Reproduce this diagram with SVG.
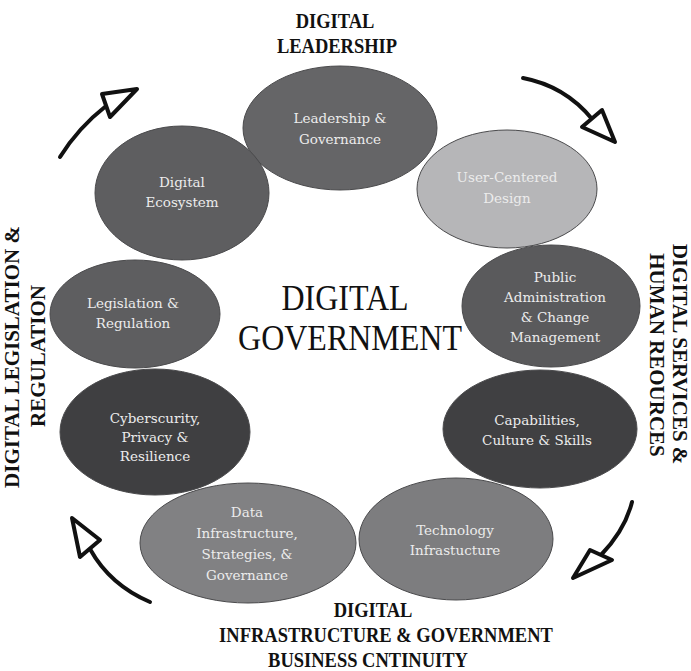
<svg xmlns="http://www.w3.org/2000/svg" width="691" height="671" viewBox="0 0 691 671">
  <style>
    .node ellipse { stroke: #4a4a4c; stroke-width: 1; }
    .node text { font-family: "DejaVu Serif", "Liberation Serif", serif; font-size: 13.5px; fill: #ececec; text-anchor: middle; }
    .title { font-family: "Liberation Serif", serif; font-size: 32px; fill: #111; text-anchor: middle; }
    .label { font-family: "Liberation Serif", serif; font-weight: bold; font-size: 18.5px; fill: #111; text-anchor: middle; }
    .vlabel { font-family: "Liberation Serif", serif; font-weight: bold; font-size: 21px; fill: #111; text-anchor: middle; }
    .arrow path { fill: none; stroke: #111; stroke-width: 4; stroke-linecap: round; stroke-linejoin: round; }
    .arrow polygon { fill: #fff; stroke: #111; stroke-width: 4; stroke-linejoin: round; }
  </style>
  <rect width="691" height="671" fill="#fff"/>

  <!-- ring of topic ellipses -->
  <g id="leadership-governance" class="node">
    <ellipse cx="340" cy="128" rx="97" ry="62" fill="#656567"/>
    <text x="340" y="123">Leadership &amp;</text>
    <text x="340" y="144">Governance</text>
  </g>
  <g id="user-centered-design" class="node">
    <ellipse cx="507" cy="189" rx="90" ry="59" fill="#b6b6b8"/>
    <text x="507" y="182">User-Centered</text>
    <text x="507" y="203">Design</text>
  </g>
  <g id="public-administration" class="node">
    <ellipse cx="551" cy="306" rx="89" ry="61" fill="#5a5a5c"/>
    <text x="555" y="282">Public</text>
    <text x="555" y="302">Administration</text>
    <text x="555" y="322">&amp; Change</text>
    <text x="555" y="342">Management</text>
  </g>
  <g id="capabilities-culture" class="node">
    <ellipse cx="540" cy="429" rx="97" ry="59" fill="#404042"/>
    <text x="537" y="425">Capabilities,</text>
    <text x="537" y="445">Culture &amp; Skills</text>
  </g>
  <g id="technology-infrastructure" class="node">
    <ellipse cx="456" cy="539" rx="97" ry="61" fill="#7d7d7f"/>
    <text x="455" y="535">Technology</text>
    <text x="455" y="555">Infrastucture</text>
  </g>
  <g id="data-infrastructure" class="node">
    <ellipse cx="248" cy="543" rx="108" ry="60" fill="#818183"/>
    <text x="247" y="517">Data</text>
    <text x="247" y="538">Infrastructure,</text>
    <text x="247" y="559">Strategies, &amp;</text>
    <text x="247" y="580">Governance</text>
  </g>
  <g id="cybersecurity-privacy" class="node">
    <ellipse cx="155" cy="432" rx="95" ry="63" fill="#3f3f41"/>
    <text x="155" y="423">Cyberscurity,</text>
    <text x="155" y="442">Privacy &amp;</text>
    <text x="155" y="461">Resilience</text>
  </g>
  <g id="legislation-regulation" class="node">
    <ellipse cx="135" cy="314" rx="85" ry="54" fill="#5e5e60"/>
    <text x="133" y="308">Legislation &amp;</text>
    <text x="133" y="328">Regulation</text>
  </g>
  <g id="digital-ecosystem" class="node">
    <ellipse cx="182" cy="193" rx="87" ry="67" fill="#5e5e60"/>
    <text x="182" y="187">Digital</text>
    <text x="182" y="207">Ecosystem</text>
  </g>

  <!-- centre title -->
  <g id="digital-government">
    <text class="title" transform="translate(345,310) scale(1,1.15)">DIGITAL</text>
    <text class="title" transform="translate(350,350) scale(1,1.15)">GOVERNMENT</text>
  </g>

  <!-- outer pillar labels -->
  <g id="label-leadership">
    <text class="label" transform="translate(335,28) scale(1,1.12)">DIGITAL</text>
    <text class="label" transform="translate(337,53) scale(1,1.12)">LEADERSHIP</text>
  </g>
  <g id="label-services">
    <text class="vlabel" transform="translate(673,354) rotate(90)">DIGITAL SERVICES &amp;</text>
    <text class="vlabel" transform="translate(650,355) rotate(90)">HUMAN REOURCES</text>
  </g>
  <g id="label-infrastructure">
    <text class="label" transform="translate(373,617) scale(1,1.12)">DIGITAL</text>
    <text class="label" transform="translate(386,642) scale(1,1.12)">INFRASTRUCTURE &amp; GOVERNMENT</text>
    <text class="label" transform="translate(368,667) scale(1,1.12)">BUSINESS CNTINUITY</text>
  </g>
  <g id="label-legislation">
    <text class="vlabel" transform="translate(19,357) rotate(-90)">DIGITAL LEGISLATION &amp;</text>
    <text class="vlabel" transform="translate(45,356) rotate(-90)">REGULATION</text>
  </g>

  <!-- cycle arrows -->
  <g id="connectors" class="arrow">
    <g id="arrow-top-left">
      <path d="M60,157 Q78,128 106,106"/>
      <polygon points="137,89 102,94 110,117"/>
    </g>
    <g id="arrow-top-right">
      <path d="M523,78 Q565,86 592,119"/>
      <polygon points="615,142 602,110 582,127"/>
    </g>
    <g id="arrow-bottom-right">
      <path d="M632,502 Q625,530 601,555"/>
      <polygon points="573,578 590,550 612,560"/>
    </g>
    <g id="arrow-bottom-left">
      <path d="M150,602 Q110,585 90,549"/>
      <polygon points="72,518 100,540 80,557"/>
    </g>
  </g>
</svg>
